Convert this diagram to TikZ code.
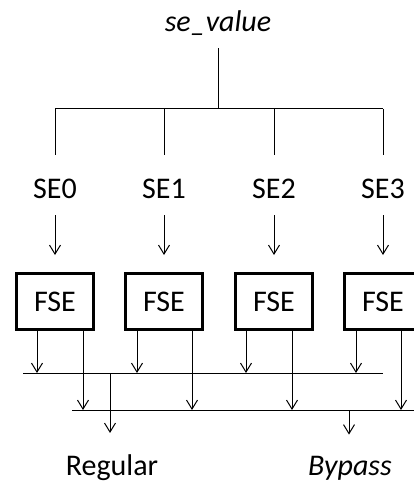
\documentclass[tikz,border=0pt]{standalone}
\usepackage{fontspec}
\setmainfont{Carlito}
\usetikzlibrary{arrows.meta}

\begin{document}
\begin{tikzpicture}[x=1pt,y=-1pt,
    lbl/.style={font=\fontsize{30}{34}\selectfont,inner sep=0pt,anchor=base},
    fse/.style={draw,line width=3pt,minimum width=77pt,minimum height=56pt,inner sep=0pt,font=\fontsize{30}{34}\selectfont},
    wire/.style={line width=1pt},
    tap/.style={wire,-{Straight Barb[length=9pt,width=11pt]}}]
  \useasboundingbox (0,0) rectangle (414,481);
  \node[lbl] (val) at (218,32) {\itshape se\_value};
  \coordinate (bus) at (218,109);
  \draw[wire,shorten <=12pt] (val.south) -- (bus);
  \foreach \i/\x in {0/55,1/164,2/274,3/383}{
    \coordinate (bus\i) at (\x,109);
    \coordinate (drop\i) at (\x,155);
    \node[lbl] (se\i) at (\x,198) {SE\i};
    \node[fse] (fse\i) at (\x,301.5) {FSE};
    \draw[wire] (bus\i) -- (drop\i);
    \draw[tap,shorten <=17pt,shorten >=17pt] (se\i.south) -- (fse\i.north);
  }
  \draw[wire] (bus0) -- (bus3);
  % regular and bypass buses
  \coordinate (rgL) at (23,373);
  \coordinate (rgR) at (383,373);
  \coordinate (bpL) at (72,410);
  \coordinate (bpR) at (416,410);
  \draw[wire] (rgL) -- (rgR);
  \draw[wire] (bpL) -- (bpR);
  \foreach \i/\l/\r in {0/37/83,1/137/192,2/246/292,3/356/401}{
    \coordinate (rg\i) at (\l,373);
    \coordinate (bp\i) at (\r,410);
    \draw[tap] (fse\i.south -| rg\i) -- (rg\i);
    \draw[tap] (fse\i.south -| bp\i) -- (bp\i);
  }
  \node[lbl] (reg) at (112,475) {Regular};
  \node[lbl] (byp) at (350,475) {\itshape Bypass};
  \coordinate (rgout) at (110,373);
  \coordinate (bpout) at (349,410);
  \draw[tap,shorten >=21pt] (rgout) -- (rgout |- reg.north);
  \draw[tap,shorten >=21pt] (bpout) -- (bpout |- byp.north);
\end{tikzpicture}
\end{document}
